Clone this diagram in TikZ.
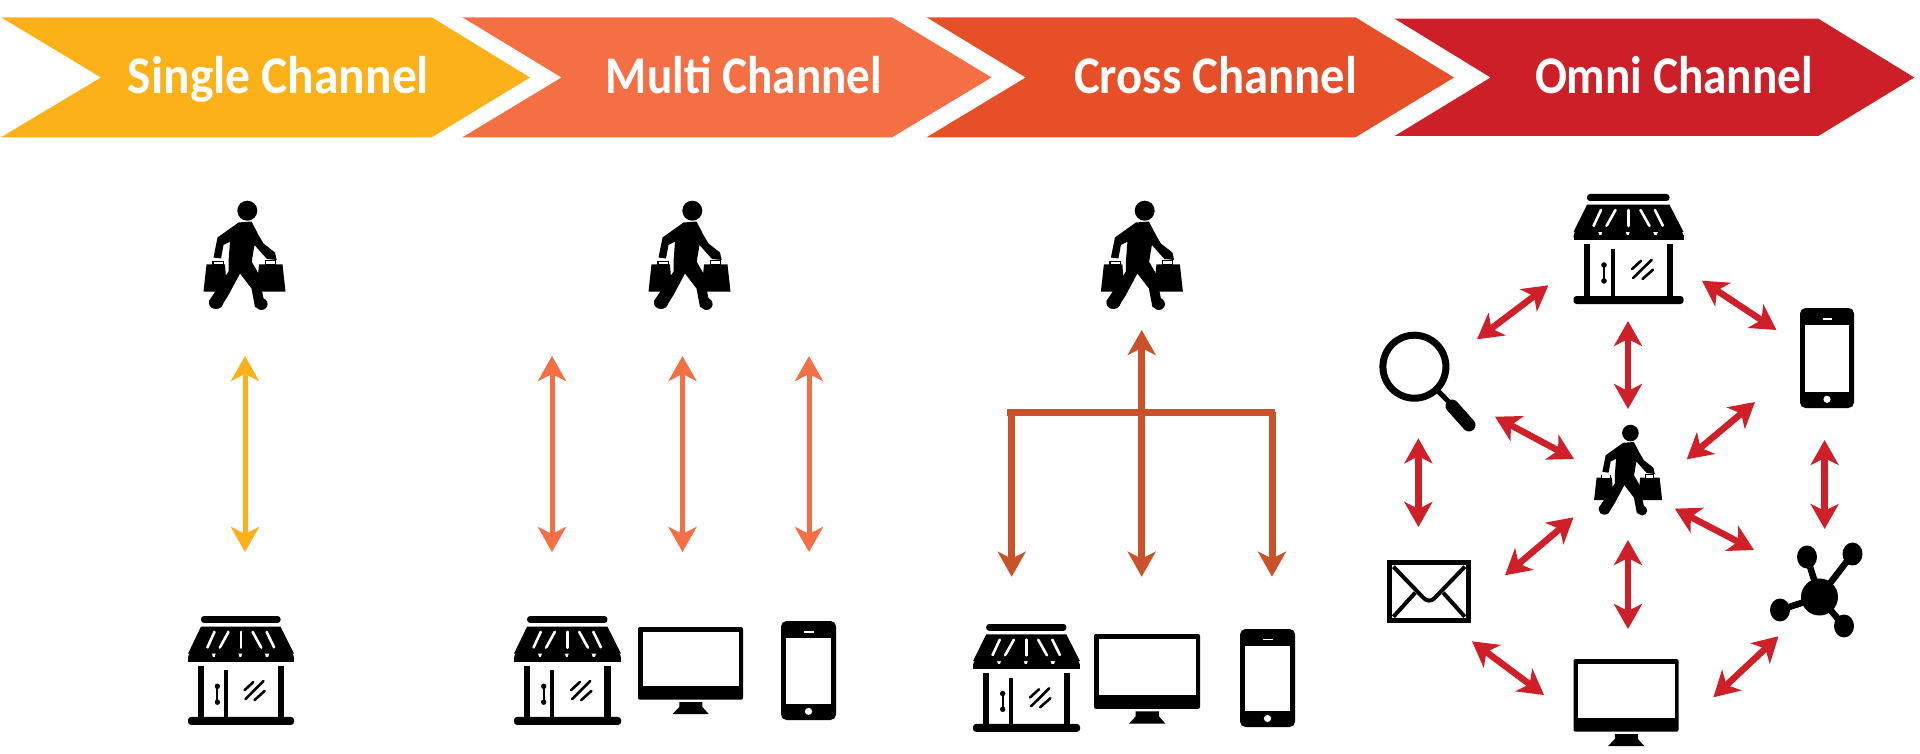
\documentclass[tikz,border=0pt]{standalone}
\usepackage{fontspec}
\setmainfont{Carlito}
\usetikzlibrary{arrows.meta}
\definecolor{cSingle}{HTML}{FDB118}
\definecolor{cMulti}{HTML}{F56F45}
\definecolor{cCross}{HTML}{E64F28}
\definecolor{cOmni}{HTML}{CC1F28}
\definecolor{cTree}{HTML}{C9522B}
\definecolor{cRed}{HTML}{CF2029}
\newcommand\chanlabel[2]{\resizebox{#1pt}{\height}{\fontsize{53}{53}\selectfont\bfseries #2}}
\tikzset{
  chevron/.style={draw=none},
  chantext/.style={text=white,anchor=base,inner sep=0pt},
  link/.style={line width=5pt,{Stealth[length=25pt,width=28pt,inset=7pt]}-{Stealth[length=25pt,width=28pt,inset=7pt]}},
  linkred/.style={link,line width=6.5pt,draw=cRed,{Stealth[length=25pt,width=28pt,inset=7pt,fill=cRed]}-{Stealth[length=25pt,width=28pt,inset=7pt,fill=cRed]}},
  treeline/.style={line width=7pt,draw=cTree},
  treehead/.style={treeline,-{Stealth[length=25pt,width=28pt,inset=7pt,fill=cTree]}},
  store/.pic={
    \fill[rounded corners=3pt] (13.5,0) rectangle (96,7);
    \fill (13.5,10.7) -- (96,10.7) -- (110,38) -- (0,38) -- cycle;
    \foreach \a/\b/\c/\d in {20/32/27.5/16,33/32/42/16,55/32/55/16,76/32/67/16,89.5/32/81.5/16}
      \draw[white,line width=2.6pt,line cap=round] (\a,\b) -- (\c,\d);
    \fill (0,41) rectangle (110,46);
    \fill (0,44) arc[start angle=180,end angle=360,x radius=13,y radius=13.5] -- cycle;
    \fill (27.5,44) arc[start angle=180,end angle=360,x radius=13,y radius=13.5] -- cycle;
    \fill (55,44) arc[start angle=180,end angle=360,x radius=13,y radius=13.5] -- cycle;
    \fill (83,44) arc[start angle=180,end angle=360,x radius=13.5,y radius=13.5] -- cycle;
    \fill (10.7,50) rectangle (16.7,104);
    \fill (93,50) rectangle (99.4,104);
    \fill (37.4,55) rectangle (41.3,104);
    \fill[rounded corners=3pt] (0,102) rectangle (110,110);
    \draw[line width=2pt] (30.5,71) -- (30.5,87);
    \fill (30.5,71) circle[radius=2.8];
    \fill (30.5,87) circle[radius=2.8];
    \draw[line width=2.6pt,line cap=round] (59.6,84) -- (78.3,65.7);
    \draw[line width=2.6pt,line cap=round] (58.6,75) -- (67.7,66.7);
    \draw[line width=2.6pt,line cap=round] (69,85) -- (79.5,75.7);
  },
  shopper/.pic={
    % bags
    \fill (11.5,69.5) -- (30,69.5) -- (32,96.5) -- (8.5,96.5) -- cycle;
    \fill (64,69.5) -- (87.5,69.5) -- (90.5,96.5) -- (61.5,96.5) -- cycle;
    \fill (17,66) rectangle (29,70);
    \fill (70,65) rectangle (81,70);
    \fill[white] (18.5,66.8) rectangle (27.5,69.3);
    \fill[white] (71,65.8) rectangle (80,69.3);
    % head
    \fill (52.3,15.7) circle[radius=10];
    % body
    \fill (43.5,27.5) -- (56.5,26.5) -- (63.5,40) -- (68.5,48.5) -- (80,57.5) -- (81.7,65) -- (72,64)
      -- (59.5,50) -- (56.7,66.7) -- (63.5,78.5) -- (68.5,103.5) -- (72.5,110) -- (66.5,114.5) -- (60,112)
      -- (56.5,93.5) -- (45,78.5) -- (33.5,100) -- (26,112) -- (17,112) -- (14,106) -- (33.5,76.5)
      -- (33.5,66.7) -- (35,46.7) -- (28.5,50) -- (26,63.5) -- (18.5,62.5) -- (22.5,42.5) -- cycle;
    \fill (21,108) ellipse[x radius=7,y radius=6];
    \fill (66.5,109) ellipse[x radius=6,y radius=6];
  },
  phonepic/.pic={
    \fill[rounded corners=5.5pt] (0,0) rectangle (54,100);
    \fill[white] (5,17) rectangle (49,84);
    \fill[white] (22.6,9.7) rectangle (32,11.7);
    \fill[white] (27,91.3) circle[radius=3.6];
  },
  monitorpic/.pic={
    \fill[rounded corners=2pt] (0,0) rectangle (105,72.7);
    \fill[white] (4.8,5) rectangle (101,59.3);
    \fill (41.3,75) -- (64.4,75) -- (64.4,80) -- (70.7,87) -- (34.6,87) -- (41.3,80) -- cycle;
  },
  envelopepic/.pic={
    \fill (0,0) rectangle (84.6,63.3);
    \fill[white] (5.4,5.4) rectangle (79.2,58);
    \draw[line width=4pt,line join=round] (6.8,6.7) -- (37,38) .. controls (40,41.5) and (45,41.5) .. (48,38) -- (78.2,6.7);
    \draw[line width=4pt] (6.8,56.7) -- (28.6,32.7);
    \draw[line width=4pt] (78.2,56.7) -- (56.6,32.7);
  },
  lenspic/.pic={
    \draw[line width=7pt] (35.4,34.7) ellipse[x radius=31.5,y radius=31.5];
    \draw[line width=5pt] (58,58) -- (74.2,74.3);
    \draw[line width=13pt,line cap=round] (73,74) -- (90,93);
  },
  hubpic/.pic={
    \foreach \px/\py in {37/13,82.5/10,10/66,74/82}{
      \draw[line width=6.5pt] (49.5,53) -- (\px,\py);
      \fill (\px,\py) ellipse[x radius=10,y radius=11.5];
    }
    \fill (49.5,53) circle[radius=18.5];
  },
}
\begin{document}
\begin{tikzpicture}[x=1pt,y=-1pt]
\useasboundingbox (0,0) rectangle (1920,754);
% chevrons
\fill[cSingle] (1,17.3) -- (431.7,17.3) -- (530,77.5) -- (431.7,137.3) -- (1,137.3) -- (101,77.5) -- cycle;
\fill[cMulti] (462.4,17.3) -- (892,17.3) -- (991.5,77.5) -- (892,137.3) -- (462.4,137.3) -- (561.5,77.5) -- cycle;
\fill[cCross] (926.6,17.3) -- (1355.4,17.3) -- (1454,77.5) -- (1355.4,137.3) -- (926.6,137.3) -- (1025.7,77.5) -- cycle;
\fill[cOmni] (1394.7,18.7) -- (1818.3,18.7) -- (1914.3,77.5) -- (1818.3,136) -- (1394.7,136) -- (1490.6,77.5) -- cycle;
\node[chantext] (tSingle) at (278.5,94) {\chanlabel{301}{Single Channel}};
\node[chantext] (tMulti) at (744,94) {\chanlabel{276}{Multi Channel}};
\node[chantext] (tCross) at (1215.5,94) {\chanlabel{283}{Cross Channel}};
\node[chantext] (tOmni) at (1674,94) {\chanlabel{278}{Omni Channel}};
% column 1
\pic (shopA) at (195,195) {shopper};
\pic[xscale=.964,yscale=.99] (storeA) at (188,616) {store};
\coordinate (a1) at (245,356); \coordinate (a2) at (245,552);
\draw[link,draw=cSingle,{Stealth[length=25pt,width=28pt,inset=7pt,fill=cSingle]}-{Stealth[length=25pt,width=28pt,inset=7pt,fill=cSingle]}] (a1) -- (a2);
% column 2
\pic (shopB) at (640,195) {shopper};
\pic[xscale=.973,yscale=.99] (storeB) at (514,616) {store};
\pic (monB) at (638,627) {monitorpic};
\pic[xscale=1.02,yscale=.99] (phoneB) at (781,621) {phonepic};
\foreach \n/\x in {b1/552,b2/682.5,b3/809}{
  \coordinate (\n t) at (\x,356); \coordinate (\n b) at (\x,552);
  \draw[link,draw=cMulti,{Stealth[length=25pt,width=28pt,inset=7pt,fill=cMulti]}-{Stealth[length=25pt,width=28pt,inset=7pt,fill=cMulti]}] (\n t) -- (\n b);
}
% column 3
\pic (shopC) at (1092.4,195) {shopper};
\pic[xscale=.973,yscale=.98] (storeC) at (973,624) {store};
\pic[xscale=1.01,yscale=1.03] (monC) at (1094,634) {monitorpic};
\pic[xscale=1.02,yscale=.98] (phoneC) at (1240,629) {phonepic};
\coordinate (cTop) at (1141.7,330);
\coordinate (cMid) at (1141.7,412.3);
\coordinate (cL) at (1011.7,412.3);
\coordinate (cR) at (1272,412.3);
\coordinate (cLb) at (1011.7,576.7);
\coordinate (cMb) at (1141.7,576.7);
\coordinate (cRb) at (1272,576.7);
\draw[treeline] (1007.3,412.3) -- (1275,412.3);
\draw[treehead] (cMid) -- (cTop);
\draw[treehead] (cL) -- (cLb);
\draw[treehead] (cMid) -- (cMb);
\draw[treehead] (cR) -- (cRb);
% omni column
\pic (storeD) at (1573.5,194) {store};
\pic (phoneD) at (1800,308) {phonepic};
\pic (lensD) at (1379,332) {lenspic};
\pic[scale=.83] (shopD) at (1587,420) {shopper};
\pic (mailD) at (1386.6,560) {envelopepic};
\pic (hubD) at (1770,544) {hubpic};
\pic (monD) at (1573.5,659) {monitorpic};
\foreach \n/\ax/\ay/\bx/\by in {
  sm/1548.4/285.3/1477/339.3,
  sp/1702/280.7/1776.5/330,
  sc/1628/321/1628/409,
  lc/1495/416.7/1574/459,
  pc/1755/402/1686.7/459.3,
  lm/1418.4/438.3/1418.4/527,
  ph/1824.6/440/1824.6/529,
  cm/1573.5/517.3/1505/575.3,
  ch/1674.8/508.7/1754/550,
  cv/1628/540/1628/629,
  mv/1472/641.3/1544/695,
  hv/1778.5/636.3/1713.4/697.3}{
  \coordinate (\n A) at (\ax,\ay);
  \coordinate (\n B) at (\bx,\by);
  \draw[linkred] (\n A) -- (\n B);
}
\end{tikzpicture}
\end{document}
